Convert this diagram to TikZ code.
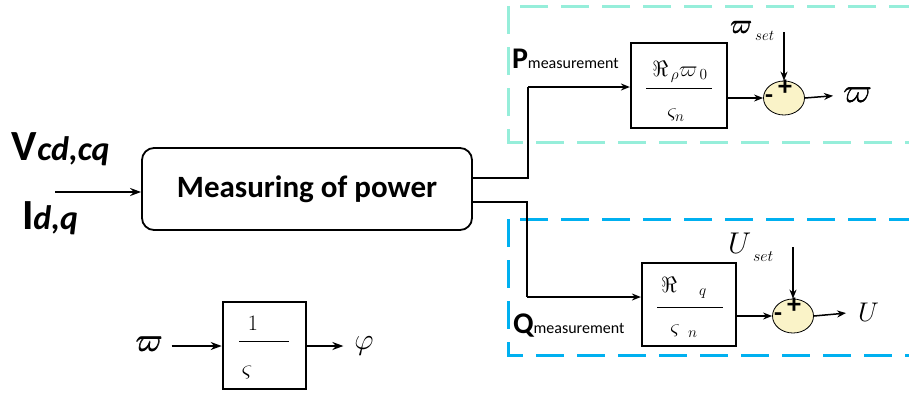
\RequirePackage{fix-cm}
\documentclass[tikz,border=0pt]{standalone}
\usepackage[no-math]{fontspec}
\setmainfont{Carlito}
\usetikzlibrary{shapes.geometric,arrows.meta,calc}
\definecolor{tealbox}{RGB}{150,238,218}
\definecolor{bluebox}{RGB}{0,176,240}
\definecolor{sumfill}{RGB}{250,243,200}
\newcommand{\myheavy}[1]{\rlap{#1}\kern0.7pt\rlap{#1}\kern-0.35pt\raisebox{0.4pt}{#1}}
\begin{document}
\begin{tikzpicture}[x=1pt,y=-1pt,
  conn/.style={line width=1.5pt},
  arr/.style={conn,-{Stealth[length=9pt,width=7pt]}},
  thickarr/.style={line width=2.4pt,-{Stealth[length=11pt,width=8pt]}},
  blockbox/.style={draw,line width=2.2pt,inner sep=0pt},
  sumnode/.style={ellipse,draw,line width=0.8pt,fill=sumfill,minimum width=41pt,minimum height=34pt,inner sep=0pt},
  lbl/.style={inner sep=0pt,outer sep=0pt},
  dashbox/.style={line width=3pt,dash pattern=on 28pt off 13pt},
  ]
\useasboundingbox (0,0) rectangle (909,397);
% dashed regions
\draw[dashbox,tealbox] (508,6) rectangle (925,142);
\draw[dashbox,bluebox] (508,219) rectangle (925,355);

% measuring block
\node[draw,rounded corners=12pt,line width=1.8pt,minimum width=330pt,minimum height=82pt,
      font=\bfseries\fontsize{31}{31}\selectfont] (mp) at (307,189) {Measuring of power};
\node[lbl,anchor=base west] (vl) at (12,160)
  {\fontsize{43}{43}\selectfont\bfseries V\fontsize{34}{34}\selectfont\itshape cd,cq};
\node[lbl,anchor=base west] (il) at (22,229)
  {\fontsize{43}{43}\selectfont\bfseries I\fontsize{34}{34}\selectfont\itshape d,q};
\coordinate (inp) at (55,192);
\draw[thickarr] (inp) -- (inp -| mp.west);

% P branch
\node[blockbox,minimum width=96pt,minimum height=85pt] (pb) at (679,85.5) {};
\draw[line width=1pt] (646,88) -- (712,88);
\node[lbl] (pnum) at (680,72) {\fontsize{22}{22}\selectfont$\Re_{\,\rho}\varpi_{\,0}$};
\node[lbl] (pden) at (676,115) {\fontsize{22}{22}\selectfont$\varsigma_{n}$};
\node[lbl,anchor=base west] (pl) at (512,68)
  {\fontsize{30}{30}\selectfont\bfseries P\fontsize{16}{16}\selectfont\mdseries measurement};
\coordinate (pk) at (528,87);
\draw[conn] ($(mp.east)+(0,-11)$) -| (pk);
\draw[arr] (pk) -- (pk -| pb.west);

\node[sumnode] (s1) at (784,98) {};
\node[lbl,font=\bfseries\fontsize{28}{28}\selectfont] (s1p) at (785,88) {+};
\node[lbl,font=\bfseries\fontsize{26}{26}\selectfont] (s1m) at (769,99) {-};
\draw[arr] (pb.east |- s1.west) -- (s1.west);
\node[lbl,anchor=base west] (ws) at (730,33)
  {\fontsize{26}{26}\selectfont\myheavy{$\varpi$}\hspace{3pt}\raisebox{-7pt}{\fontsize{15}{15}\selectfont$set$}};
\coordinate (s1top) at (784,32);
\draw[arr] (s1top) -- (s1.north);
\node[lbl,anchor=west] (wo) at (843,95) {\fontsize{34}{34}\selectfont\myheavy{$\varpi$}};
\draw[arr,shorten >=10pt] (s1.east) -- (wo.west);

% Q branch
\node[blockbox,minimum width=94pt,minimum height=83pt] (qb) at (689,304.5) {};
\draw[line width=1pt] (657,307) -- (723,307);
\node[lbl] (qnum) at (684,288) {\fontsize{22}{22}\selectfont$\Re_{\quad q}$};
\node[lbl] (qden) at (684,331) {\fontsize{22}{22}\selectfont$\varsigma_{\ \ n}$};
\node[lbl,anchor=base west] (ql) at (513,333)
  {\fontsize{30}{30}\selectfont\bfseries Q\fontsize{16}{16}\selectfont\mdseries measurement};
\coordinate (qk) at (527,297);
\draw[conn] ($(mp.east)+(0,13)$) -| (qk);
\draw[arr] (qk) -- (qk -| qb.west);

\node[sumnode] (s2) at (793,316) {};
\node[lbl,font=\bfseries\fontsize{28}{28}\selectfont] (s2p) at (794,306) {+};
\node[lbl,font=\bfseries\fontsize{26}{26}\selectfont] (s2m) at (778,317) {-};
\draw[arr] (qb.east |- s2.west) -- (s2.west);
\node[lbl,anchor=base west] (us) at (728,253)
  {\fontsize{30}{30}\selectfont$U$\hspace{2pt}\raisebox{-8pt}{\fontsize{16}{16}\selectfont$set$}};
\coordinate (s2top) at (793,247);
\draw[arr] (s2top) -- (s2.north);
\node[lbl,anchor=west] (uo) at (858,312) {\fontsize{27}{27}\selectfont$U$};
\draw[arr,shorten >=12pt] (s2.east) -- (uo.west);

% integrator
\node[blockbox,line width=2.6pt,minimum width=83pt,minimum height=87pt] (ib) at (264.5,345.5) {};
\draw[line width=1pt] (239,341) -- (289,341);
\node[lbl] (inum) at (253,323) {\fontsize{22}{22}\selectfont$1$};
\node[lbl] (iden) at (247,372) {\fontsize{24}{24}\selectfont$\varsigma$};
\node[lbl] (wi) at (149,344) {\fontsize{32}{32}\selectfont\myheavy{$\varpi$}};
\node[lbl] (phi) at (364,346) {\fontsize{30}{30}\selectfont$\varphi$};
\draw[thickarr] ($(wi.east)+(9,2)$) -- (ib.west |- 0,346);
\draw[thickarr,shorten >=11pt] (ib.east |- 0,346) -- (phi.west);
\end{tikzpicture}
\end{document}
